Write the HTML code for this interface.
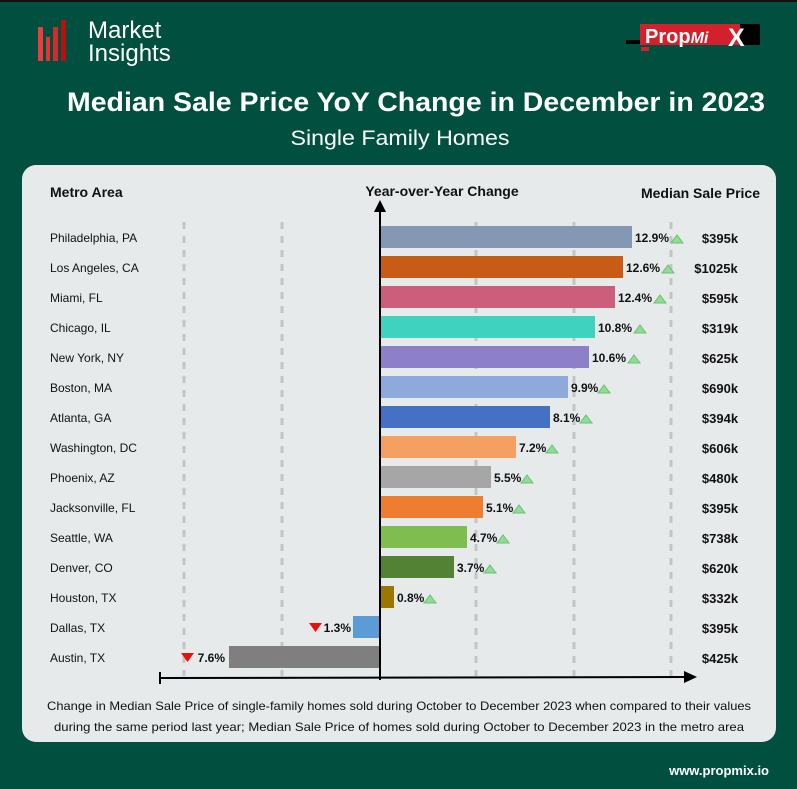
<!DOCTYPE html>
<html><head><meta charset="utf-8"><style>
html,body{margin:0;padding:0;}
body{width:797px;height:784px;background:#01503f;overflow:hidden;font-family:"Liberation Sans",sans-serif;}
</style></head><body>
<svg width="797" height="784" viewBox="0 0 797 784" xmlns="http://www.w3.org/2000/svg" font-family="Liberation Sans, sans-serif">
<rect x="0" y="0" width="797" height="784" fill="#01503f"/>
<rect x="0" y="0" width="797" height="2" fill="#111"/>
<!-- logo -->
<rect x="38" y="27" width="5" height="34" fill="#ef3b3b"/>
<rect x="46" y="37" width="4" height="24" fill="#e23232"/>
<rect x="53" y="27" width="5" height="34" fill="#d42a2a"/>
<rect x="61" y="20" width="5" height="41" fill="#b80f0f"/>
<text x="88" y="38" font-size="24" fill="#fff">Market</text>
<text x="88" y="61" font-size="24" fill="#fff">Insights</text>
<rect x="626" y="40" width="15" height="4" fill="#000"/>
<rect x="641" y="47" width="8" height="4" fill="#d4202a"/>
<rect x="640" y="24" width="100" height="21" fill="#d4202a"/>
<rect x="740" y="24" width="20" height="21" fill="#000"/>
<text x="645" y="43" font-size="20" font-weight="bold" fill="#fff">Prop<tspan font-style="italic" font-weight="bold" font-size="16">Mi</tspan></text>
<text x="728" y="46" font-size="25" font-weight="bold" fill="#fff">X</text>
<text x="416" y="111" font-size="27" font-weight="bold" fill="#fff" text-anchor="middle" textLength="698" lengthAdjust="spacingAndGlyphs">Median Sale Price YoY Change in December in 2023</text>
<text x="400" y="145" font-size="21" fill="#fff" text-anchor="middle" textLength="219" lengthAdjust="spacingAndGlyphs">Single Family Homes</text>
<!-- card -->
<rect x="22" y="165" width="754" height="577" rx="14" fill="#e7eaea"/>
<text x="50" y="197" font-size="14" font-weight="bold" fill="#111">Metro Area</text>
<text x="442" y="196" font-size="14" font-weight="bold" fill="#111" text-anchor="middle">Year-over-Year Change</text>
<text x="760" y="198" font-size="14" font-weight="bold" fill="#111" text-anchor="end">Median Sale Price</text>
<g stroke="#c4c4c4" stroke-width="3" stroke-dasharray="7,7">
<line x1="184" y1="222" x2="184" y2="676"/>
<line x1="282" y1="222" x2="282" y2="676"/>
<line x1="476" y1="222" x2="476" y2="676"/>
<line x1="574" y1="222" x2="574" y2="676"/>
<line x1="671" y1="222" x2="671" y2="676"/>
</g>
<g font-size="12" fill="#111">
<text x="50" y="242">Philadelphia, PA</text>
<text x="50" y="272">Los Angeles, CA</text>
<text x="50" y="302">Miami, FL</text>
<text x="50" y="332">Chicago, IL</text>
<text x="50" y="362">New York, NY</text>
<text x="50" y="392">Boston, MA</text>
<text x="50" y="422">Atlanta, GA</text>
<text x="50" y="452">Washington, DC</text>
<text x="50" y="482">Phoenix, AZ</text>
<text x="50" y="512">Jacksonville, FL</text>
<text x="50" y="542">Seattle, WA</text>
<text x="50" y="572">Denver, CO</text>
<text x="50" y="602">Houston, TX</text>
<text x="50" y="632">Dallas, TX</text>
<text x="50" y="662">Austin, TX</text>
</g>
<g>
<rect x="380" y="226" width="252" height="22" fill="#8498b3"/>
<rect x="380" y="256" width="243" height="22" fill="#c85c17"/>
<rect x="380" y="286" width="235" height="22" fill="#cc5e7c"/>
<rect x="380" y="316" width="215" height="22" fill="#3fd3bf"/>
<rect x="380" y="346" width="209" height="22" fill="#8d80c8"/>
<rect x="380" y="376" width="188" height="22" fill="#8eaadc"/>
<rect x="380" y="406" width="170" height="22" fill="#4471c4"/>
<rect x="380" y="436" width="136" height="22" fill="#f3a062"/>
<rect x="380" y="466" width="111" height="22" fill="#a6a6a6"/>
<rect x="380" y="496" width="103" height="22" fill="#ee7d31"/>
<rect x="380" y="526" width="87" height="22" fill="#7fbd50"/>
<rect x="380" y="556" width="74" height="22" fill="#548235"/>
<rect x="380" y="586" width="14" height="22" fill="#9c7700"/>
<rect x="353" y="616" width="27" height="22" fill="#5b9bd6"/>
<rect x="229" y="646" width="151" height="22" fill="#7f7f7f"/>
</g>
<g font-size="12" font-weight="bold" fill="#111">
<text x="635" y="242">12.9%</text>
<text x="626" y="272">12.6%</text>
<text x="618" y="302">12.4%</text>
<text x="598" y="332">10.8%</text>
<text x="592" y="362">10.6%</text>
<text x="571" y="392">9.9%</text>
<text x="553" y="422">8.1%</text>
<text x="519" y="452">7.2%</text>
<text x="494" y="482">5.5%</text>
<text x="486" y="512">5.1%</text>
<text x="470" y="542">4.7%</text>
<text x="457" y="572">3.7%</text>
<text x="397" y="602">0.8%</text>
<text x="351" y="632" text-anchor="end">1.3%</text>
<text x="225" y="662" text-anchor="end">7.6%</text>
</g>
<g fill="#8fdc95" stroke="#6cc074" stroke-width="1">
<path d="M671,243 l6,-8 l6,8z"/>
<path d="M662,273 l6,-8 l6,8z"/>
<path d="M654,303 l6,-8 l6,8z"/>
<path d="M634,333 l6,-8 l6,8z"/>
<path d="M628,363 l6,-8 l6,8z"/>
<path d="M598,393 l6,-8 l6,8z"/>
<path d="M580,423 l6,-8 l6,8z"/>
<path d="M546,453 l6,-8 l6,8z"/>
<path d="M521,483 l6,-8 l6,8z"/>
<path d="M513,513 l6,-8 l6,8z"/>
<path d="M497,543 l6,-8 l6,8z"/>
<path d="M484,573 l6,-8 l6,8z"/>
<path d="M424,603 l6,-8 l6,8z"/>
</g>
<g fill="#e8120c">
<path d="M309,623 l13,0 l-6.5,9z"/>
<path d="M181,653 l13,0 l-6.5,9z"/>
</g>
<g font-size="13" font-weight="bold" fill="#111" text-anchor="middle">
<text x="720" y="243">$395k</text>
<text x="716" y="273">$1025k</text>
<text x="720" y="303">$595k</text>
<text x="720" y="333">$319k</text>
<text x="720" y="363">$625k</text>
<text x="720" y="393">$690k</text>
<text x="720" y="423">$394k</text>
<text x="720" y="453">$606k</text>
<text x="720" y="483">$480k</text>
<text x="720" y="513">$395k</text>
<text x="720" y="543">$738k</text>
<text x="720" y="573">$620k</text>
<text x="720" y="603">$332k</text>
<text x="720" y="633">$395k</text>
<text x="720" y="663">$425k</text>
</g>
<!-- axes -->
<line x1="380" y1="210" x2="380" y2="680" stroke="#000" stroke-width="2"/>
<path d="M374,212 L380,200 L386,212z" fill="#000"/>
<line x1="160" y1="678" x2="686" y2="677" stroke="#000" stroke-width="2"/>
<line x1="160" y1="672" x2="160" y2="684" stroke="#000" stroke-width="2"/>
<path d="M684,671 L697,677 L684,683z" fill="#000"/>
<g font-size="12" fill="#111" text-anchor="middle">
<text x="399" y="710" textLength="704" lengthAdjust="spacingAndGlyphs">Change in Median Sale Price of single-family homes sold during October to December 2023 when compared to their values</text>
<text x="399" y="731" textLength="690" lengthAdjust="spacingAndGlyphs">during the same period last year; Median Sale Price of homes sold during October to December 2023 in the metro area</text>
</g>
<text x="769" y="775" font-size="13" font-weight="bold" fill="#fff" text-anchor="end">www.propmix.io</text>
</svg>
</body></html>
